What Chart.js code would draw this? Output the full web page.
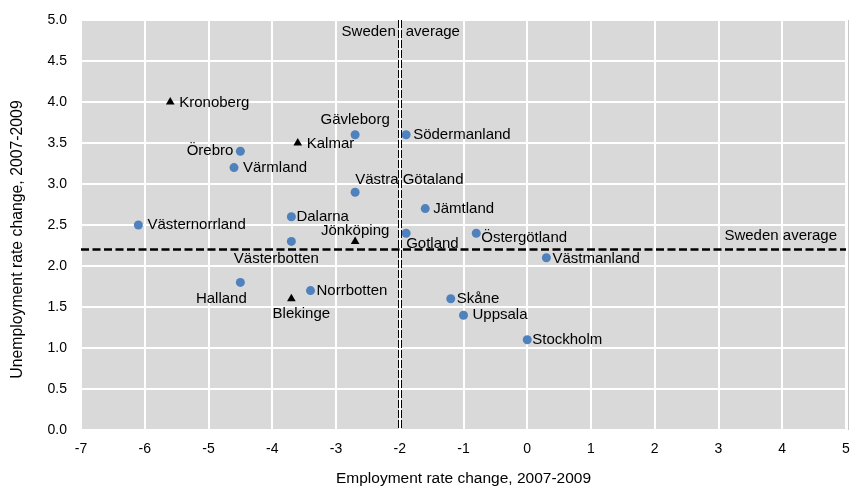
<!DOCTYPE html>
<html>
<head>
<meta charset="utf-8">
<script src="https://cdn.jsdelivr.net/npm/chart.js@4/dist/chart.umd.min.js"></script>
<style>
  html, body { margin: 0; padding: 0; background: #fff; }
  #wrap { width: 852px; height: 486px; }
</style>
</head>
<body>
<div id="wrap"><canvas id="chart"></canvas></div>
<script>
// regions shown with blue circles
const circleRegions = ['Västernorrland', 'Örebro', 'Värmland', 'Dalarna', 'Västerbotten', 'Halland',
  'Norrbotten', 'Gävleborg', 'Västra Götaland', 'Södermanland', 'Gotland', 'Jämtland',
  'Östergötland', 'Västmanland', 'Skåne', 'Uppsala', 'Stockholm'];
const circleEmp = [-6.1, -4.5, -4.6, -3.7, -3.7, -4.5, -3.4, -2.7, -2.7, -1.9, -1.9, -1.6, -0.8, 0.3, -1.2, -1.0, 0.0];
const circleUnemp = [2.5, 3.4, 3.2, 2.6, 2.3, 1.8, 1.7, 3.6, 2.9, 3.6, 2.4, 2.7, 2.4, 2.1, 1.6, 1.4, 1.1];

// regions shown with black triangles
const triangleRegions = ['Kronoberg', 'Kalmar', 'Jönköping', 'Blekinge'];
const triangleEmp = [-5.6, -3.6, -2.7, -3.7];
const triangleUnemp = [4.0, 3.5, 2.3, 1.6];

const swedenAvgEmp = -2;
const swedenAvgUnemp = 2.2;

const xTicks = [-7, -6, -5, -4, -3, -2, -1, 0, 1, 2, 3, 4, 5];
const yTicks = [0, 0.5, 1, 1.5, 2, 2.5, 3, 3.5, 4, 4.5, 5];

const yTitle = 'Unemployment rate change, 2007-2009';

// label placement: [dx, dy, align] relative to the point
const labelPos = {
  'Västernorrland': [9, 0, 'left'], 'Örebro': [-7, 0, 'right'], 'Värmland': [9, 0, 'left'],
  'Dalarna': [5, 0, 'left'], 'Västerbotten': [-15, 17, 'center'], 'Halland': [-19, 16, 'center'],
  'Norrbotten': [6, 0, 'left'], 'Gävleborg': [0, -15, 'center'], 'Västra Götaland': [0, -12, 'left'],
  'Södermanland': [7, 0, 'left'], 'Gotland': [0, 11, 'left'], 'Jämtland': [8, 0, 'left'],
  'Östergötland': [5, 5, 'left'], 'Västmanland': [6, 1, 'left'], 'Skåne': [6, 0, 'left'],
  'Uppsala': [9, 0, 'left'], 'Stockholm': [5, 0, 'left'],
  'Kronoberg': [9, 1, 'left'], 'Kalmar': [9, 1, 'left'], 'Jönköping': [0, -11, 'center'],
  'Blekinge': [10, 15, 'center']
};

const labelFont = '15px "Liberation Sans", Arial, sans-serif';

const plotBackground = {
  id: 'plotBackground',
  beforeDraw(chart) {
    const {ctx, chartArea: a} = chart;
    ctx.save();
    ctx.fillStyle = '#d9d9d9';
    ctx.fillRect(a.left, a.top, a.right - a.left, a.bottom - a.top);
    ctx.strokeStyle = '#c8c8c8';
    ctx.lineWidth = 1;
    ctx.beginPath();
    ctx.moveTo(a.right + 2.5, a.top);
    ctx.lineTo(a.right + 2.5, a.bottom);
    ctx.stroke();
    // y axis title (Excel puts it a little below the plot centre)
    ctx.fillStyle = '#000';
    ctx.font = '15.8px "Liberation Sans", Arial, sans-serif';
    ctx.textAlign = 'center';
    ctx.textBaseline = 'middle';
    ctx.translate(18, 239.5);
    ctx.rotate(-Math.PI / 2);
    ctx.fillText(yTitle, 0, 0);
    ctx.restore();
  }
};

const averageLines = {
  id: 'averageLines',
  afterDatasetsDraw(chart) {
    const {ctx, chartArea: a, scales} = chart;
    const px = scales.x.getPixelForValue(swedenAvgEmp);
    const py = scales.y.getPixelForValue(swedenAvgUnemp);
    ctx.save();
    ctx.strokeStyle = '#000';
    ctx.lineWidth = 1;
    ctx.setLineDash([8, 2]);
    [-1.5, 1.5].forEach(off => {
      ctx.beginPath();
      ctx.moveTo(Math.round(px + off) + 0.5, a.top);
      ctx.lineTo(Math.round(px + off) + 0.5, a.bottom);
      ctx.stroke();
    });
    ctx.lineWidth = 2.5;
    ctx.setLineDash([8, 3.5]);
    ctx.beginPath();
    ctx.moveTo(a.left, py);
    ctx.lineTo(a.right, py);
    ctx.stroke();
    ctx.setLineDash([]);

    ctx.fillStyle = '#000';
    ctx.font = labelFont;
    ctx.textBaseline = 'middle';
    // the vertical line runs through the gap of this label
    ctx.textAlign = 'right';
    ctx.fillText('Sweden', px - 4, a.top + 12);
    ctx.textAlign = 'left';
    ctx.fillText('average', px + 6, a.top + 12);
    ctx.textAlign = 'right';
    ctx.fillText('Sweden average', a.right - 9, py - 14);
    ctx.restore();
  }
};

const pointLabels = {
  id: 'pointLabels',
  afterDatasetsDraw(chart) {
    const {ctx} = chart;
    ctx.save();
    ctx.fillStyle = '#000';
    ctx.font = labelFont;
    ctx.textBaseline = 'middle';
    chart.data.datasets.forEach((ds, i) => {
      const meta = chart.getDatasetMeta(i);
      meta.data.forEach((el, j) => {
        const name = ds.names[j];
        const [dx, dy, align] = labelPos[name];
        ctx.textAlign = align;
        ctx.fillText(name, el.x + dx, el.y + dy);
      });
    });
    ctx.restore();
  }
};

const tickFont = { family: '"Liberation Sans", Arial, sans-serif', size: 14 };
const titleFont = { family: '"Liberation Sans", Arial, sans-serif', size: 15.5, lineHeight: 1 };

new Chart(document.getElementById('chart'), {
  type: 'scatter',
  data: {
    datasets: [
      {
        names: circleRegions,
        data: circleEmp.map((x, i) => ({ x: x, y: circleUnemp[i] })),
        pointStyle: 'circle',
        pointRadius: 4.5,
        backgroundColor: '#4f81bd',
        borderColor: '#4f81bd',
        borderWidth: 0
      },
      {
        names: triangleRegions,
        data: triangleEmp.map((x, i) => ({ x: x, y: triangleUnemp[i] })),
        pointStyle: 'triangle',
        pointRadius: 5,
        backgroundColor: '#000',
        borderColor: '#000',
        borderWidth: 0
      }
    ]
  },
  options: {
    responsive: true,
    maintainAspectRatio: false,
    animation: false,
    layout: { padding: { left: 0, right: 6, top: 20, bottom: 0 } },
    plugins: {
      legend: { display: false },
      tooltip: { enabled: false }
    },
    scales: {
      x: {
        type: 'linear',
        min: -7, max: 5,
        afterBuildTicks: s => { s.ticks = xTicks.map(v => ({ value: v })); },
        afterFit: s => { s.height = 56; s.paddingLeft = 0; s.paddingRight = 0; },
        grid: { color: '#ffffff', lineWidth: 2, drawTicks: false },
        border: { display: false },
        ticks: { color: '#000', font: tickFont, padding: 11, maxRotation: 0, callback: v => String(v) },
        title: {
          display: true, text: 'Employment rate change, 2007-2009',
          color: '#000', font: titleFont, padding: { top: 0, bottom: 0 }
        }
      },
      y: {
        type: 'linear',
        min: 0, max: 5,
        afterBuildTicks: s => { s.ticks = yTicks.map(v => ({ value: v })); },
        afterFit: s => { s.width = 81; s.paddingTop = 0; s.paddingBottom = 0; },
        grid: { color: '#ffffff', lineWidth: 2, drawTicks: false },
        border: { display: false },
        ticks: { color: '#000', font: tickFont, padding: 14, callback: v => v.toFixed(1) },
        title: { display: false }
      }
    }
  },
  plugins: [plotBackground, averageLines, pointLabels]
});
</script>
</body>
</html>
